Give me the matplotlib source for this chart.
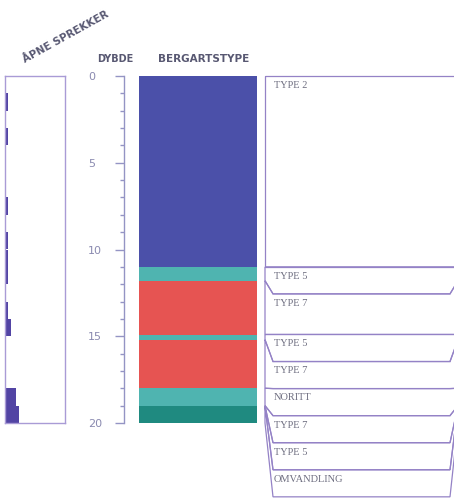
import matplotlib.pyplot as plt
from matplotlib.patches import Polygon
from matplotlib.ticker import MultipleLocator

# lithology log: layer tops/bottoms (m), rock type names
layer_names = ['TYPE 2', 'TYPE 5', 'TYPE 7', 'TYPE 5', 'TYPE 7', 'NORITT', 'TYPE 7', 'TYPE 5', 'OMVANDLING']
layer_tops = [0.0, 11.0, 11.8, 14.9, 15.2, 18.0, 19.0, 19.02, 19.04]
layer_bottoms = [11.0, 11.8, 14.9, 15.2, 18.0, 19.0, 19.02, 19.04, 20.0]
type_colors = {'TYPE 2': '#4b50a9', 'TYPE 5': '#4fb4b0', 'TYPE 7': '#e65452',
               'NORITT': '#4fb4b0', 'OMVANDLING': '#1f8a80'}

# open fractures per metre
fracture_depths = list(range(20))
fracture_counts = [0, 1, 0, 1, 0, 0, 0, 1, 0, 1, 1, 1, 0, 1, 2, 0, 0, 0, 4, 5]

W, H = 454, 501
fig = plt.figure(figsize=(W / 100, H / 100), dpi=100)
fig.patch.set_facecolor('white')


def px_axes(x0, y0, x1, y1):
    return fig.add_axes([x0 / W, 1 - y1 / H, (x1 - x0) / W, (y1 - y0) / H])


head_col = '#585872'
axis_col = '#9494c4'
box_col = '#9482c6'

# fracture histogram
ax_f = px_axes(5, 76, 65, 423)
ax_f.barh(fracture_depths, fracture_counts, height=1.0, align='edge', color='#5244a4', edgecolor='none')
ax_f.set_ylim(20, 0)
ax_f.set_xlim(0, 21)
ax_f.set_xticks([])
ax_f.set_yticks([])
for s in ax_f.spines.values():
    s.set_color('#a99bd6')
    s.set_linewidth(1.0)
fig.text(66 / W, 1 - 37 / H, 'ÅPNE SPREKKER', rotation=29, ha='center', va='center',
         fontsize=7.5, fontweight='bold', color=head_col)

# depth scale
ax_d = px_axes(124, 76, 124.5, 423)
ax_d.set_ylim(20, 0)
ax_d.set_xticks([])
for k in ['top', 'right', 'bottom']:
    ax_d.spines[k].set_visible(False)
ax_d.spines['left'].set_color(axis_col)
ax_d.spines['left'].set_linewidth(1.0)
ax_d.yaxis.set_major_locator(MultipleLocator(5))
ax_d.yaxis.set_minor_locator(MultipleLocator(1))
ax_d.tick_params(axis='y', which='major', length=6.5, width=1, color=axis_col,
                 labelsize=8, labelcolor='#8a8ab0', pad=19.5)
ax_d.tick_params(axis='y', which='minor', length=3, width=1, color=axis_col)
for lab in ax_d.get_yticklabels():
    lab.set_horizontalalignment('left')
fig.text(115 / W, 1 - 59 / H, 'DYBDE', ha='center', va='center',
         fontsize=7, fontweight='bold', color=head_col)

# lithology column
ax_l = px_axes(139, 76, 257, 423)
for name, top, bot in zip(layer_names, layer_tops, layer_bottoms):
    ax_l.axhspan(top, bot, color=type_colors[name], lw=0)
ax_l.set_ylim(20, 0)
ax_l.set_xlim(0, 1)
ax_l.axis('off')
fig.text(204 / W, 1 - 59 / H, 'BERGARTSTYPE', ha='center', va='center',
         fontsize=7.5, fontweight='bold', color=head_col)

# label track: boxes pushed down so each keeps a minimum height
right = 193
ax_t = px_axes(265, 76, 265 + right, 501)
ax_t.set_ylim(24.5, 0)
ax_t.set_xlim(0, right)
ax_t.axis('off')
min_h = 1.56
bevel = 8
prev_bot = 0.0
for name, top, bot in zip(layer_names, layer_tops, layer_bottoms):
    t0 = max(top, prev_bot)
    t1 = max(bot, t0 + min_h)
    prev_bot = t1
    pts = [(0, top), (bevel, t0), (right - bevel, t0), (right, top),
           (right, bot), (right - bevel, t1), (bevel, t1), (0, bot)]
    ax_t.add_patch(Polygon(pts, closed=True, facecolor='none', edgecolor=box_col,
                           lw=0.9, clip_on=False))
    ax_t.text(9, t0 + 0.28, name, ha='left', va='top', fontsize=7.5,
              family=['Liberation Serif', 'DejaVu Serif'], color='#6e6e80')

fig.savefig('out.png', dpi=100)
